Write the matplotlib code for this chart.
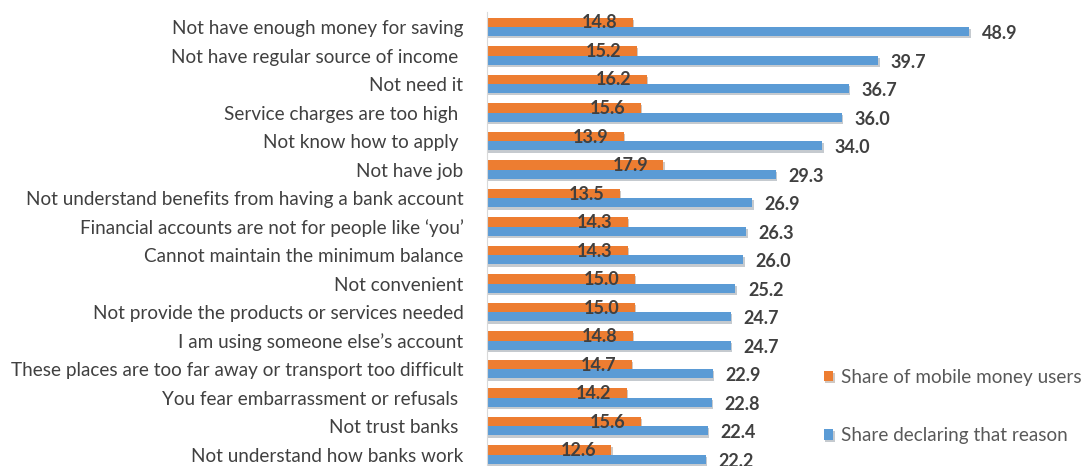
import numpy as np
import matplotlib.pyplot as plt
import matplotlib.patheffects as pe

categories = [
    "Not have enough money for saving",
    "Not have regular source of income ",
    "Not need it",
    "Service charges are too high ",
    "Not know how to apply ",
    "Not have job",
    "Not understand benefits from having a bank account",
    "Financial accounts are not for people like \u2018you\u2019",
    "Cannot maintain the minimum balance",
    "Not convenient",
    "Not provide the products or services needed",
    "I am using someone else\u2019s account",
    "These places are too far away or transport too difficult",
    "You fear embarrassment or refusals ",
    "Not trust banks ",
    "Not understand how banks work",
]
mobile_users = [14.8, 15.2, 16.2, 15.6, 13.9, 17.9, 13.5, 14.3, 14.3, 15.0, 15.0, 14.8, 14.7, 14.2, 15.6, 12.6]
declaring = [48.9, 39.7, 36.7, 36.0, 34.0, 29.3, 26.9, 26.3, 26.0, 25.2, 24.7, 24.7, 22.9, 22.8, 22.4, 22.2]

plt.rcParams['font.family'] = ['Lato', 'DejaVu Sans']

W, H = 1084, 466
fig = plt.figure(figsize=(W / 100, H / 100), dpi=100)
ax = fig.add_axes([487 / W, 0, 1 - 487 / W, 454 / H])

orange = '#ED7D31'
blue = '#5B9BD5'
bh = 0.33
y = np.arange(len(categories))
shadow = [pe.SimplePatchShadow(offset=(1, -1.5), alpha=0.25), pe.Normal()]

b1 = ax.barh(y - bh / 2, mobile_users, height=bh, color=orange, label='Share of mobile money users',
             path_effects=shadow)
b2 = ax.barh(y + bh / 2, declaring, height=bh, color=blue, label='Share declaring that reason',
             path_effects=shadow)

for yy, v in zip(y, mobile_users):
    ax.annotate(f"{v:.1f}", (v, yy - bh / 2), xytext=(-11, -0.5), textcoords='offset points',
                ha='right', va='center', fontsize=13, fontweight='bold', color='#404040')
for yy, v in zip(y, declaring):
    ax.annotate(f"{v:.1f}", (v, yy + bh / 2), xytext=(9, -1.5), textcoords='offset points',
                ha='left', va='center', fontsize=13, fontweight='bold', color='#404040')

ax.set_xlim(0, 60.55)
ax.set_ylim(15.4, -0.526)
ax.set_yticks(y)
ax.set_yticklabels(categories, fontsize=13.6, color='#404040')
ax.tick_params(axis='y', length=0, pad=17)
ax.set_xticks([])
for s in ['top', 'right', 'bottom']:
    ax.spines[s].set_visible(False)
ax.spines['left'].set_color('#D9D9D9')

fig.legend(handles=[b1, b2], loc='center left', bbox_to_anchor=(824 / W, 1 - 406.5 / H),
           frameon=False, fontsize=13.6, labelcolor='#595959', handlelength=0.5, handleheight=0.5,
           handletextpad=0.4, labelspacing=2.2, borderpad=0, borderaxespad=0)

fig.savefig('out.png', dpi=100)
